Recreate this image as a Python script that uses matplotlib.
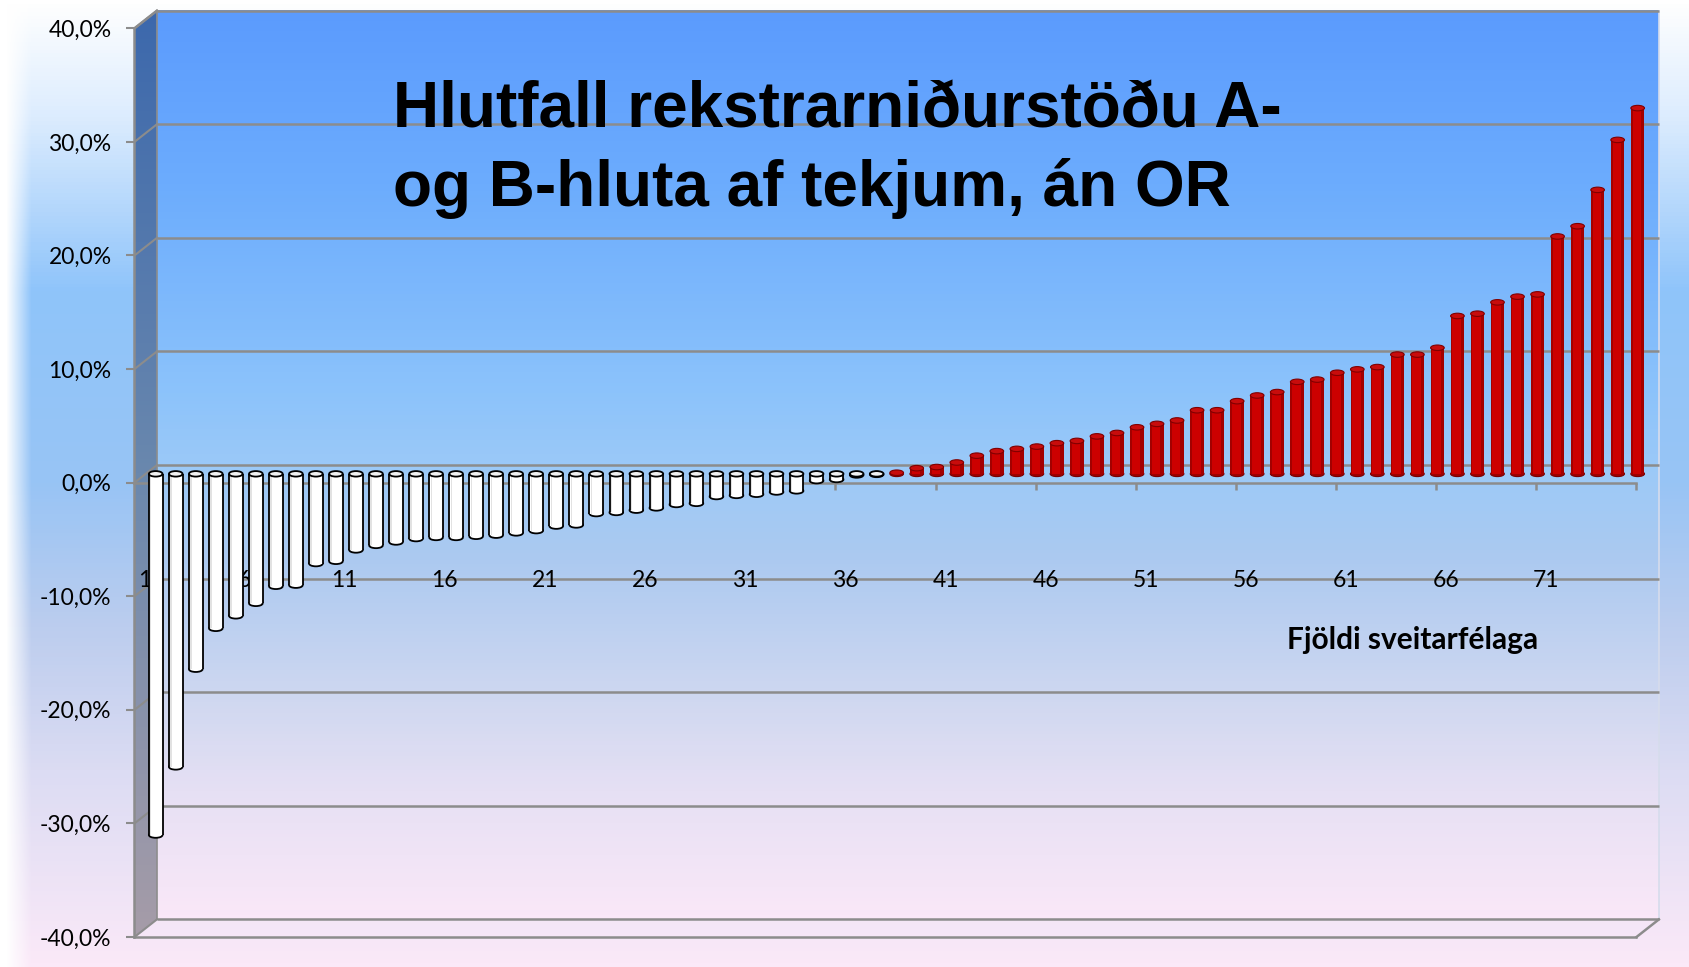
import numpy as np
import matplotlib
matplotlib.use('Agg')
import matplotlib.pyplot as plt
from matplotlib import transforms
from matplotlib.colors import LinearSegmentedColormap
from matplotlib.patches import Ellipse, Polygon

# data: operating result of A- and B-part as share of revenue, per municipality (sorted)
municipality = np.arange(1, 76)
share_pct = np.array([
    -31.8, -25.8, -17.2, -13.6, -12.5, -11.4, -9.9, -9.8, -7.9, -7.7,
    -6.7, -6.3, -6.0, -5.7, -5.6, -5.6, -5.5, -5.4, -5.2, -5.0,
    -4.6, -4.5, -3.5, -3.4, -3.2, -3.0, -2.7, -2.6, -2.0, -1.9,
    -1.8, -1.6, -1.5, -0.6, -0.5, -0.1, -0.05, 0.1, 0.5, 0.6,
    1.0, 1.6, 2.0, 2.2, 2.4, 2.7, 2.9, 3.3, 3.6, 4.1,
    4.4, 4.7, 5.6, 5.6, 6.4, 6.9, 7.2, 8.1, 8.3, 8.9,
    9.2, 9.4, 10.5, 10.5, 11.1, 13.9, 14.1, 15.1, 15.6, 15.8,
    20.9, 21.8, 25.0, 29.4, 32.2])
x_labels = list(range(1, 76, 5))
y_ticks = list(range(-40, 41, 10))
title = "Hlutfall rekstrarniðurstöðu A-\nog B-hluta af tekjum, án OR"
x_title = "Fjöldi sveitarfélaga"

W, H = 1690, 967
fig = plt.figure(figsize=(W / 100, H / 100), dpi=100)

# front plane of the 3d box in pixels, and depth offset
FL, FR, FT, FB = 134.5, 1636.5, 28.3, 937.0
DX, DY = 22.4, 17.6
GRID = '#8c8c8c'

# ---- background, back wall and side wall (pixel axes)
bg = fig.add_axes([0, 0, 1, 1])
bg.set_xlim(0, W)
bg.set_ylim(H, 0)
bg.axis('off')

outer = LinearSegmentedColormap.from_list('outer', [
    (0.0, '#ffffff'), (0.12, '#dcecfe'), (0.3, '#8fc4fa'), (0.5, '#98c4f5'),
    (0.65, '#bccdee'), (0.8, '#dcdcf3'), (1.0, '#fbe9f8')])
col = outer(np.linspace(0, 1, H))[:, :3]
img = np.repeat(col[:, None, :], W, axis=1)
xx = np.arange(W)
fade = np.clip((xx - 6) / 25.0, 0, 1)[None, :, None]
img = img * fade + (1 - fade)
bg.imshow(img, extent=(0, W, H, 0), aspect='auto', zorder=0)

wall = LinearSegmentedColormap.from_list('wall', [
    (0.0, '#5b9bfe'), (0.2, '#6dadfd'), (0.42, '#8cc3fb'), (0.5, '#9bc9f8'),
    (0.6, '#abc9f0'), (0.75, '#cdd7f0'), (0.86, '#e6e0f4'), (1.0, '#fae8f8')])
wcol = wall(np.linspace(0, 1, 256))[:, None, :3]
bg.imshow(wcol, extent=(FL + DX, FR + DX, FB - DY, FT - DY), aspect='auto', zorder=1)

side = LinearSegmentedColormap.from_list('side', ['#3c68ac', '#6a88ae', '#a69ca8'])
scol = side(np.linspace(0, 1, 256))[:, None, :3]
side_img = bg.imshow(scol, extent=(FL, FL + DX, FB, FT - DY), aspect='auto', zorder=1)
side_poly = Polygon([(FL, FT), (FL + DX, FT - DY), (FL + DX, FB - DY), (FL, FB)],
                    closed=True, fc='none', ec='none')
bg.add_patch(side_poly)
side_img.set_clip_path(side_poly)

bg.plot([FL, FL + DX], [FT, FT - DY], color=GRID, lw=1.8, zorder=2)
bg.plot([FL + DX, FL + DX], [FT - DY, FB - DY], color=GRID, lw=1.2, zorder=2)
bg.plot([FR + DX, FR + DX], [FT - DY, FB - DY], color='#d6dcec', lw=1.2, zorder=2)
bg.plot([FR, FR + DX], [FB, FB - DY], color=GRID, lw=1.8, zorder=2)
for v in y_ticks:
    yp = FT + (40 - v) / 80.0 * (FB - FT)
    bg.plot([FL, FL + DX], [yp, yp - DY], color=GRID, lw=1.5, zorder=2)

# ---- data axes on the front plane
ax = fig.add_axes([FL / W, (H - FB) / H, (FR - FL) / W, (FB - FT) / H])
ax.patch.set_alpha(0)
back_tr = transforms.offset_copy(ax.transData, fig=fig, x=DX, y=DY, units='dots')
mid_tr = transforms.offset_copy(ax.transData, fig=fig, x=DX / 2, y=DY / 2, units='dots')

ax.hlines(y_ticks, 0.5, 75.5, colors=GRID, lw=1.8, transform=back_tr, clip_on=False, zorder=1)
ax.axhline(-40, color=GRID, lw=1.8, clip_on=False, zorder=1)

px_per_pct = (FB - FT) / 80.0
cap = 5.5 / px_per_pct
bw = 0.68

neg = share_pct < 0
pos = ~neg
xn, vn = municipality[neg], share_pct[neg]
xp, vp = municipality[pos], share_pct[pos]

# white (negative) cylinders
for x, v in zip(xn, vn):
    ax.add_patch(Ellipse((x, v), bw, cap, fc='white', ec='black', lw=1.3,
                         transform=mid_tr, zorder=3, clip_on=False))
ax.bar(xn, vn, width=bw, color='white', edgecolor='none', transform=mid_tr, zorder=4, clip_on=False)
ax.bar(xn - bw * 0.36, vn, width=bw * 0.1, color='#e2e2e2', edgecolor='none',
       transform=mid_tr, zorder=4, clip_on=False)
ax.vlines(np.concatenate([xn - bw / 2, xn + bw / 2]), np.concatenate([vn, vn]), 0,
          colors='black', lw=1.3, transform=mid_tr, zorder=5, clip_on=False)
for x in xn:
    ax.add_patch(Ellipse((x, 0), bw, cap, fc='#f2f2f2', ec='black', lw=1.3,
                         transform=mid_tr, zorder=6, clip_on=False))

# red (positive) cylinders
for x in xp:
    ax.add_patch(Ellipse((x, 0), bw, cap, fc='#a00000', ec='#7a0000', lw=0.8,
                         transform=mid_tr, zorder=3, clip_on=False))
ax.bar(xp, vp, width=bw, color='#a30000', edgecolor='none', transform=mid_tr, zorder=4, clip_on=False)
ax.bar(xp - bw * 0.06, vp, width=bw * 0.62, color='#cc0000', edgecolor='none',
       transform=mid_tr, zorder=4, clip_on=False)
for x, v in zip(xp, vp):
    ax.add_patch(Ellipse((x, v), bw, cap, fc='#c80c0c', ec='#800000', lw=0.8,
                         transform=mid_tr, zorder=6, clip_on=False))

ax.set_xlim(0.5, 75.5)
ax.set_ylim(-40, 40)

for s in ['top', 'right']:
    ax.spines[s].set_visible(False)
ax.spines['left'].set_color(GRID)
ax.spines['left'].set_linewidth(1.8)
ax.spines['bottom'].set_position(('data', 0))
ax.spines['bottom'].set_color(GRID)
ax.spines['bottom'].set_linewidth(1.8)
ax.spines['bottom'].set_zorder(2)

ax.set_yticks(y_ticks)
ax.set_yticklabels([f"{v:.1f}%".replace('.', ',') for v in y_ticks])
ax.tick_params(axis='y', direction='out', length=5.5, width=1.5, color=GRID, pad=11,
               labelsize=16.5, labelfontfamily='Lato')
ax.set_xticks(x_labels)
ax.set_xticklabels([str(k) for k in x_labels])
ax.set_xticks(np.arange(5.5, 76, 5), minor=True)
ax.tick_params(axis='x', which='major', length=0, pad=63, labelsize=16.5, labelfontfamily='Lato')
ax.tick_params(axis='x', which='minor', direction='out', length=5, width=1.8, color=GRID)

fig.text(393 / W, 1 - 80 / H, title, ha='left', va='top', fontsize=46,
         fontweight='bold', family='Liberation Sans', linespacing=1.38)
fig.text(1413 / W, 1 - 640 / H, x_title, ha='center', va='center', fontsize=21.5,
         fontweight='bold', family='Lato')

fig.savefig('out.png', dpi=100)
